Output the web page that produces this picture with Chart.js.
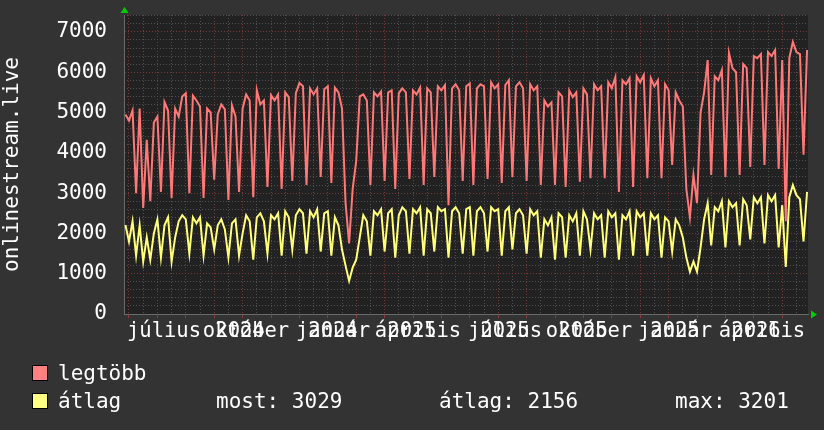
<!DOCTYPE html>
<html>
<head>
<meta charset="utf-8">
<script src="https://cdn.jsdelivr.net/npm/chart.js@4/dist/chart.umd.min.js"></script>
<style>
  html, body { margin: 0; padding: 0; background: #333333; }
  #wrap { position: relative; width: 824px; height: 430px; }
  canvas { position: absolute; left: 0; top: 0; }
  .lg { position: absolute; font: 21px 'DejaVu Sans Mono', monospace; color: #ffffff; line-height: 21px; white-space: pre; }
  .box { position: absolute; width: 14px; height: 14px; border: 1px solid #000; }
</style>
</head>
<body>
<div id="wrap">
  <canvas id="chart" width="824" height="430"></canvas>
  <div class="box" style="left:32px;top:365px;background:#ff8080"></div>
  <div class="lg" style="left:58px;top:363px">legtöbb</div>
  <div class="box" style="left:32px;top:393px;background:#ffff80"></div>
  <div class="lg" style="left:58px;top:391px">átlag</div>
  <div class="lg" style="left:216px;top:391px">most: 3029</div>
  <div class="lg" style="left:439px;top:391px">átlag: 2156</div>
  <div class="lg" style="left:675px;top:391px">max: 3201</div>
</div>
<script>
// mintavétel: 8 pont / hónap, az első pont a -1/8. hónapnál
const sampleStart = -0.125;
const sampleStep = 0.125;

const legtobb = [
  4950, 4800, 5050, 3000, 5100, 2630, 4320, 2800, 4750, 4900,
  3030, 5260, 5050, 2880, 5100, 4900, 5400, 5480, 3000, 5420,
  5300, 5150, 2880, 5100, 5000, 3330, 4950, 5200, 5080, 2830,
  5180, 4900, 3030, 5100, 5450, 5300, 2900, 5560, 5200, 5300,
  3150, 5430, 5300, 5450, 3100, 5500, 5380, 3300, 5480, 5730,
  5650, 3200, 5600, 5450, 5600, 3400, 5580, 5650, 3250, 5620,
  5500, 5100, 2750, 1750, 3100, 3800, 5400, 5450, 5300, 3200,
  5500, 5400, 5520, 3300, 5500, 5550, 3100, 5480, 5600, 5500,
  3350, 5550, 5450, 5620, 3200, 5600, 5500, 3400, 5650, 5550,
  5680, 2700, 5600, 5700, 5550, 3300, 5650, 5720, 3200, 5600,
  5700, 5650, 3350, 5750, 5600, 5700, 3250, 5680, 5800, 3400,
  5650, 5750, 5600, 3300, 5700, 5550, 5650, 3200, 5300, 5150,
  5250, 3200, 5500, 5400, 3150, 5550, 5380, 5500, 3280, 5600,
  5450, 3370, 5700, 5550, 5650, 3370, 5750, 5600, 5880, 3030,
  5800, 5700, 5850, 3150, 5900, 5750, 5930, 3370, 5850, 5650,
  5800, 3370, 5700, 5550, 3700, 5500, 5300, 5150, 3100, 2400,
  3450, 2750, 5000, 5500, 6300, 3450, 5900, 5800, 6050, 3400,
  6480, 6100, 6000, 3450, 6200, 6100, 3650, 6400, 6350, 6450,
  3700, 6500, 6400, 6550, 3600, 6300, 2300, 6350, 6750, 6500,
  6450, 3950, 6550
];

const atlag = [
  2210, 1800, 2300, 1450, 2200, 1300, 1900, 1350, 2000, 2350,
  1400, 2200, 2400, 1300, 1900, 2300, 2450, 2350, 1500, 2400,
  2250, 2400, 1450, 2250, 2150, 1600, 2200, 2350, 2100, 1400,
  2250, 2350, 1450, 2000, 2450, 2300, 1350, 2400, 2500, 2300,
  1500, 2450, 2350, 2500, 1450, 2550, 2400, 1600, 2450, 2600,
  2500, 1500, 2550, 2400, 2600, 1550, 2500, 2550, 1450, 2400,
  2200, 1600, 1200, 820, 1150, 1350, 1900, 2450, 2300, 1450,
  2550, 2450, 2600, 1550, 2500, 2600, 1400, 2450, 2650, 2550,
  1500, 2600, 2500, 2650, 1450, 2600, 2500, 1550, 2650, 2550,
  2600, 1400, 2550, 2650, 2500, 1500, 2600, 2650, 1450, 2550,
  2650, 2500, 1550, 2650, 2550, 2600, 1450, 2550, 2650, 1600,
  2500, 2600, 2450, 1500, 2600, 2450, 2550, 1400, 2350, 2200,
  2400, 1350, 2500, 2400, 1400, 2450, 2300, 2500, 1450, 2550,
  2350, 1600, 2500, 2350, 2450, 1400, 2550, 2400, 2500, 1350,
  2450, 2350, 2550, 1450, 2550, 2400, 2500, 1450, 2500, 2350,
  2450, 1400, 2400, 2300, 1550, 2350, 2200, 1900, 1400, 1050,
  1300, 1050, 1650, 2350, 2750, 1700, 2650, 2550, 2800, 1650,
  2800, 2650, 2750, 1700, 2850, 2700, 1850, 2900, 2750, 2900,
  1750, 2950, 2800, 2950, 1650, 2700, 1170, 2900, 3201, 2950,
  2850, 1800, 3029
];

const yTicks = [0, 1000, 2000, 3000, 4000, 5000, 6000, 7000];
// hónapnevek és évszámok, egymásra írva (hónapban mért helyük)
const monthPos = [1.232, 4.120, 7.183, 10.176, 13.239, 16.197, 19.225, 22.289];
const monthLabels = ['július', 'október', 'január', 'április', 'július', 'október', 'január', 'április'];
const yearPos = [3.908, 7.183, 9.965, 13.239, 15.986, 19.225, 22.077];
const yearLabels = ['2024', '2024', '2025', '2025', '2025', '2025', '2026'];

const xMin = -0.176, xMax = 23.908;
const yMax = 7420;

const toPoints = arr => arr.map((v, i) => ({ x: sampleStart + i * sampleStep, y: v }));

const xLabelTicks = monthPos.map((v, i) => ({ value: v, text: monthLabels[i] }))
  .concat(yearPos.map((v, i) => ({ value: v, text: yearLabels[i] })));

// rácsvonalak helye
const monthLines = [];
for (let m = Math.ceil(xMin); m <= xMax; m++) monthLines.push(m);
const halfLines = [];
for (let m = Math.floor(xMin); m <= xMax; m++) if (m + 0.5 > xMin && m + 0.5 < xMax) halfLines.push(m + 0.5);
const yMinorLines = [];
for (let v = 200; v < yMax; v += 200) if (v % 1000 !== 0) yMinorLines.push(v);

const minorColor = '#505050';
const majorColor = '#743a3a';
const textFont = { family: 'DejaVu Sans Mono', size: 20.5 };

const noPad = s => { s.paddingTop = 0; s.paddingBottom = 0; s.paddingLeft = 0; s.paddingRight = 0; };

const plotBg = {
  id: 'plotBg',
  beforeDraw(chart) {
    const { ctx, chartArea: a } = chart;
    ctx.save();
    ctx.fillStyle = '#222222';
    ctx.fillRect(a.left, a.top, a.right - a.left, a.bottom - a.top);
    ctx.restore();
  }
};

const arrows = {
  id: 'arrows',
  afterDraw(chart) {
    const { ctx, chartArea: a } = chart;
    ctx.save();
    ctx.fillStyle = '#00d000';
    ctx.beginPath();
    ctx.moveTo(a.left - 3.5, a.top - 2);
    ctx.lineTo(a.left + 4.5, a.top - 2);
    ctx.lineTo(a.left + 0.5, a.top - 8);
    ctx.closePath();
    ctx.fill();
    ctx.beginPath();
    ctx.moveTo(a.right + 3, a.bottom - 3.5);
    ctx.lineTo(a.right + 3, a.bottom + 4.5);
    ctx.lineTo(a.right + 9, a.bottom + 0.5);
    ctx.closePath();
    ctx.fill();
    ctx.restore();
  }
};

function gridAxis(values, color, weight, pos, extra) {
  return Object.assign({
    type: 'linear',
    position: pos,
    weight: weight,
    afterBuildTicks: s => { s.ticks = values.map(v => ({ value: v })); },
    ticks: { display: false },
    grid: { color: color, lineWidth: 1, drawTicks: false },
    border: { display: false, dash: [1, 2] },
    afterFit: s => { noPad(s); if (pos === 'bottom') s.height = 0; else s.width = 0; }
  }, extra);
}

const ctx = document.getElementById('chart').getContext('2d');
new Chart(ctx, {
  type: 'line',
  data: {
    datasets: [
      {
        label: 'legtöbb',
        data: toPoints(legtobb),
        borderColor: '#ff7878',
        borderWidth: 2,
        pointRadius: 0,
        tension: 0,
        order: 2
      },
      {
        label: 'átlag',
        data: toPoints(atlag),
        borderColor: '#ffff7a',
        borderWidth: 2,
        pointRadius: 0,
        tension: 0,
        order: 1
      }
    ]
  },
  options: {
    responsive: false,
    animation: false,
    layout: { padding: { left: 0, right: 16, top: 15, bottom: 0 } },
    plugins: { legend: { display: false }, tooltip: { enabled: false } },
    scales: {
      xMinor: gridAxis(halfLines, minorColor, 0, 'bottom', { min: xMin, max: xMax }),
      xMajor: gridAxis(monthLines, majorColor, 1, 'bottom', {
        min: xMin, max: xMax,
        grid: { color: majorColor, lineWidth: 1, drawTicks: true, tickLength: 4, tickColor: '#8a3a3a' },
        border: { display: true, color: '#6a6a6a', width: 1, dash: [1, 2] }
      }),
      x: {
        type: 'linear',
        position: 'bottom',
        weight: 2,
        min: xMin,
        max: xMax,
        afterBuildTicks: s => { s.ticks = xLabelTicks.map(t => ({ value: t.value })); },
        afterFit: s => { noPad(s); s.height = 116; },
        ticks: {
          autoSkip: false, maxRotation: 0, minRotation: 0, padding: 5,
          color: '#ffffff', font: textFont,
          callback: (v, i) => xLabelTicks[i].text
        },
        grid: { display: false, drawTicks: false },
        border: { display: false }
      },
      yMinor: gridAxis(yMinorLines, minorColor, 0, 'left', { min: 0, max: yMax }),
      y: {
        type: 'linear',
        position: 'left',
        weight: 1,
        min: 0,
        max: yMax,
        afterBuildTicks: s => { s.ticks = yTicks.map(v => ({ value: v })); },
        afterFit: s => { noPad(s); s.width = 124; },
        ticks: {
          padding: 17, color: '#ffffff',
          font: { family: 'DejaVu Sans Mono', size: 21 },
          callback: v => String(v)
        },
        grid: { color: majorColor, lineWidth: 1, drawTicks: false },
        border: { display: true, color: '#6a6a6a', width: 1, dash: [1, 2] },
        title: {
          display: true,
          text: 'onlinestream.live',
          color: '#ffffff',
          font: { family: 'DejaVu Sans Mono', size: 21 },
          padding: { top: 0, bottom: 0 }
        }
      }
    }
  },
  plugins: [plotBg, arrows]
});
</script>
</body>
</html>
